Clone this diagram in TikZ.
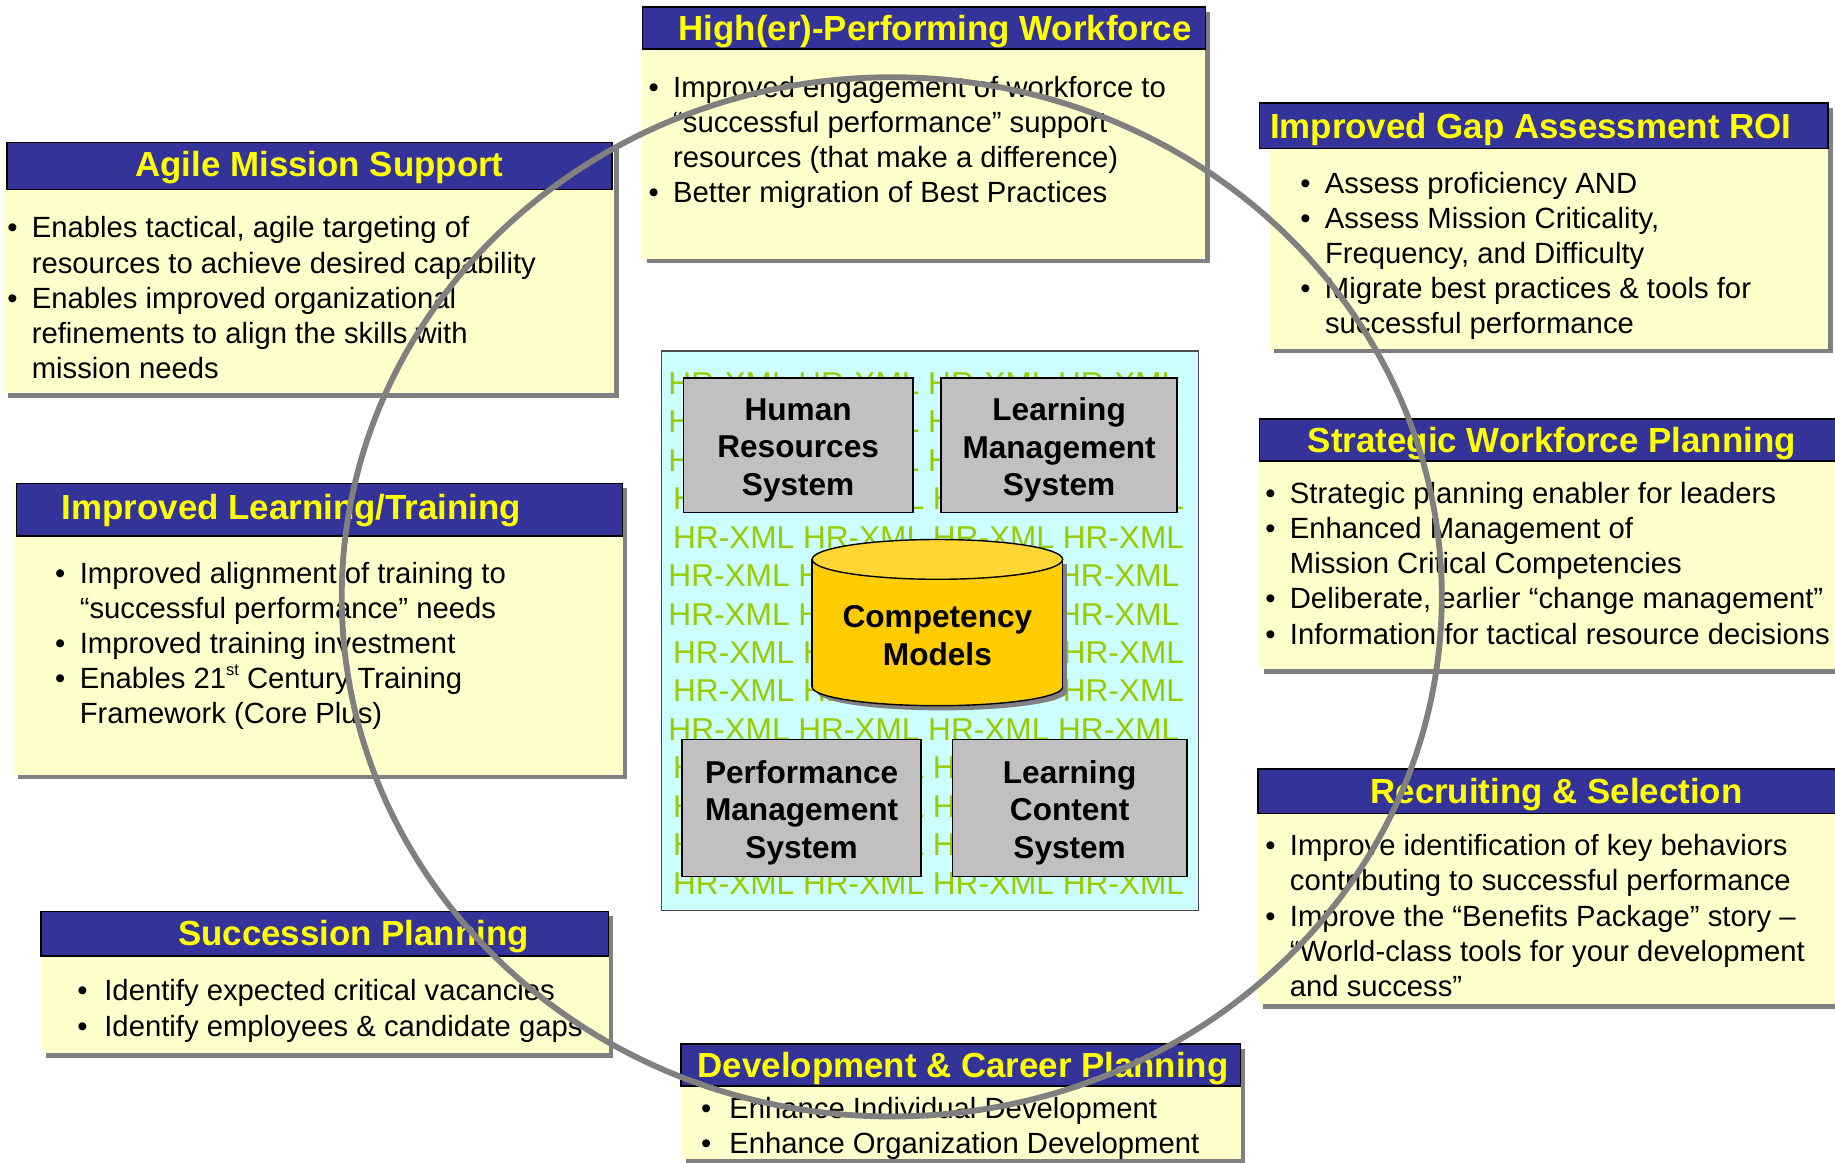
\documentclass[tikz,border=0pt]{standalone}
\usepackage{fontspec}
\setmainfont{Liberation Sans}
\usetikzlibrary{positioning,shadows}

\definecolor{hdrblue}{HTML}{333399}
\definecolor{hdryellow}{HTML}{FFFF00}
\definecolor{notefill}{HTML}{FFFFCC}
\definecolor{panelcyan}{HTML}{CCFFFF}
\definecolor{xmlgreen}{HTML}{99CC00}
\definecolor{sysgray}{HTML}{C0C0C0}
\definecolor{cylgold}{HTML}{FFCC00}
\definecolor{cyllight}{HTML}{FFD633}
\definecolor{shadowgray}{HTML}{808080}

% bullet and hanging indent for the note texts
\newcommand{\bitem}[1][21pt]{\makebox[#1][l]{\textbullet}}
\newcommand{\bcont}[1][21pt]{\hspace*{#1}}
\newcommand{\supst}[1]{\raisebox{0.45em}{\fontsize{14}{14}\selectfont #1}}

\tikzset{
  notebody/.style={fill=notefill, drop shadow={shadow xshift=4pt, shadow yshift=-4pt, fill=shadowgray, opacity=1}},
  hdrbar/.style={fill=hdrblue, draw=black, line width=1.2pt},
  hdrtitle/.style={anchor=base, text=hdryellow, inner sep=0pt, font=\fontsize{29.8}{35}\selectfont\bfseries},
  notetext/.style={anchor=north west, align=left, inner sep=0pt, font=\fontsize{25}{30}\selectfont},
  panel/.style={fill=panelcyan, draw=black!70, line width=1.2pt},
  hrxml/.style={anchor=base west, inner sep=0pt, text=xmlgreen, font=\fontsize{27}{33}\selectfont},
  sysbox/.style={fill=sysgray, draw=black, line width=1.4pt, inner sep=0pt},
  sysname/.style={align=center, inner sep=0pt, font=\fontsize{27}{32}\selectfont\bfseries},
  cylline/.style={draw=black, line width=1.2pt},
  ring/.style={draw=shadowgray, line width=5pt},
}

\begin{document}
\begin{tikzpicture}[x=1pt, y=-1pt]
\useasboundingbox (0,0) rectangle (1568,993);

% High(er)-Performing Workforce (top)
\fill[notebody] (549,6) rectangle (1030,221);
\draw[hdrbar] (549,6) rectangle (1030,42);
\node[hdrtitle] (perfT) at (799,35) {High(er)-Performing Workforce};
\node[notetext] (perfB) at (554,65) {\bitem Improved engagement of workforce to\\
  \bcont “successful performance” support\\
  \bcont resources (that make a difference)\\
  \bitem Better migration of Best Practices};

% Agile Mission Support
\fill[notebody] (3,122) rectangle (525,336);
\draw[hdrbar] (6,122) rectangle (523,162);
\node[hdrtitle] (agileT) at (273,151) {Agile Mission Support};
\node[notetext] (agileB) at (6,185) {\bitem Enables tactical, agile targeting of\\
  \bcont resources to achieve desired capability\\
  \bitem Enables improved organizational\\
  \bcont refinements to align the skills with\\
  \bcont mission needs};

% Improved Gap Assessment ROI
\fill[notebody] (1085,88) rectangle (1562,298);
\draw[hdrbar] (1076,88) rectangle (1562,127);
\node[hdrtitle] (gapT) at (1308,118) {Improved Gap Assessment ROI};
\node[notetext] (gapB) at (1111,147) {\bitem Assess proficiency AND\\
  \bitem Assess Mission Criticality,\\
  \bcont Frequency, and Difficulty\\
  \bitem Migrate best practices \& tools for\\
  \bcont successful performance};

% Strategic Workforce Planning
\fill[notebody] (1076,358) rectangle (1580,572);
\draw[hdrbar] (1076,358) rectangle (1580,394);
\node[hdrtitle] (swpT) at (1326,387) {Strategic Workforce Planning};
\node[notetext] (swpB) at (1081,412) {\bitem Strategic planning enabler for leaders\\
  \bitem Enhanced Management of\\
  \bcont Mission Critical Competencies\\
  \bitem Deliberate, earlier “change management”\\
  \bitem Information for tactical resource decisions};

% Recruiting & Selection
\fill[notebody] (1075,657) rectangle (1580,858);
\draw[hdrbar] (1075,657) rectangle (1580,695);
\node[hdrtitle] (recT) at (1330,687) {Recruiting \& Selection};
\node[notetext] (recB) at (1081,713) {\bitem Improve identification of key behaviors\\
  \bcont contributing to successful performance\\
  \bitem Improve the “Benefits Package” story –\\
  \bcont “World-class tools for your development\\
  \bcont and success”};

% Improved Learning/Training
\fill[notebody] (11,413) rectangle (532,662);
\draw[hdrbar] (14,413) rectangle (532,458);
\node[hdrtitle] (learnT) at (249,444) {Improved Learning/Training};
\node[notetext] (learnB) at (47,480) {\bitem Improved alignment of training to\\
  \bcont “successful performance” needs\\
  \bitem Improved training investment\\
  \bitem Enables 21\supst{st} Century Training\\
  \bcont Framework (Core Plus)};

% Succession Planning
\fill[notebody] (35,779) rectangle (520,900);
\draw[hdrbar] (35,779) rectangle (520,817);
\node[hdrtitle] (succT) at (302,808) {Succession Planning};
\node[notetext] (succB) at (66,837) {\bitem[23pt]Identify expected critical vacancies\\
  \bitem[23pt]Identify employees \& candidate gaps};

% Development & Career Planning (bottom)
\fill[notebody] (582,892) rectangle (1060,990);
\draw[hdrbar] (582,892) rectangle (1060,928);
\node[hdrtitle] (devT) at (823,921) {Development \& Career Planning};
\node[notetext] (devB) at (599,937) {\bitem[24pt]Enhance Individual Development\\
  \bitem[24pt]Enhance Organization Development};

% centre panel with the HR-XML backdrop
\draw[panel] (565,300) rectangle (1024,778);
\foreach \row/\dx in {0/0,1/0,2/0,3/4,4/4,5/0,6/0,7/4,8/4,9/0,10/4,11/4,12/4,13/4}
  \node[hrxml] (xml\row) at (571+\dx,337+32.85*\row) {HR-XML HR-XML HR-XML HR-XML};

% the four systems
\node[sysbox, minimum width=196, minimum height=115] (hrs) at (682,380.5) {};
\node[sysbox, minimum width=202, minimum height=115] (lms) at (905,380.5) {};
\node[sysbox, minimum width=204, minimum height=117] (pms) at (685,690.5) {};
\node[sysbox, minimum width=200, minimum height=117] (lcs) at (914,690.5) {};
\node[sysname] (hrsL) at (682,384.5) {Human\\Resources\\System};
\node[sysname] (lmsL) at (905,384.5) {Learning\\Management\\System};
\node[sysname] (pmsL) at (685,694.5) {Performance\\Management\\System};
\node[sysname] (lcsL) at (914,694.5) {Learning\\Content\\System};

% competency cylinder, shadow first
\begin{scope}[xshift=4pt, yshift=-4pt]
  \fill[shadowgray] (694,478) rectangle (908,587);
  \fill[shadowgray] (801,587) ellipse [x radius=107, y radius=16];
\end{scope}
\filldraw[fill=cylgold, cylline] (801,587) ellipse [x radius=107, y radius=16];
\fill[cylgold] (694,478) rectangle (908,587);
\draw[cylline] (694,478) -- (694,587) (908,478) -- (908,587);
\filldraw[fill=cyllight, cylline] (801,478) ellipse [x radius=107, y radius=17];
\node[sysname] (compm) at (801,543) {Competency\\Models};

% the big ring over everything
\draw[ring] (762,510) ellipse [x radius=470, y radius=444];
\end{tikzpicture}
\end{document}
